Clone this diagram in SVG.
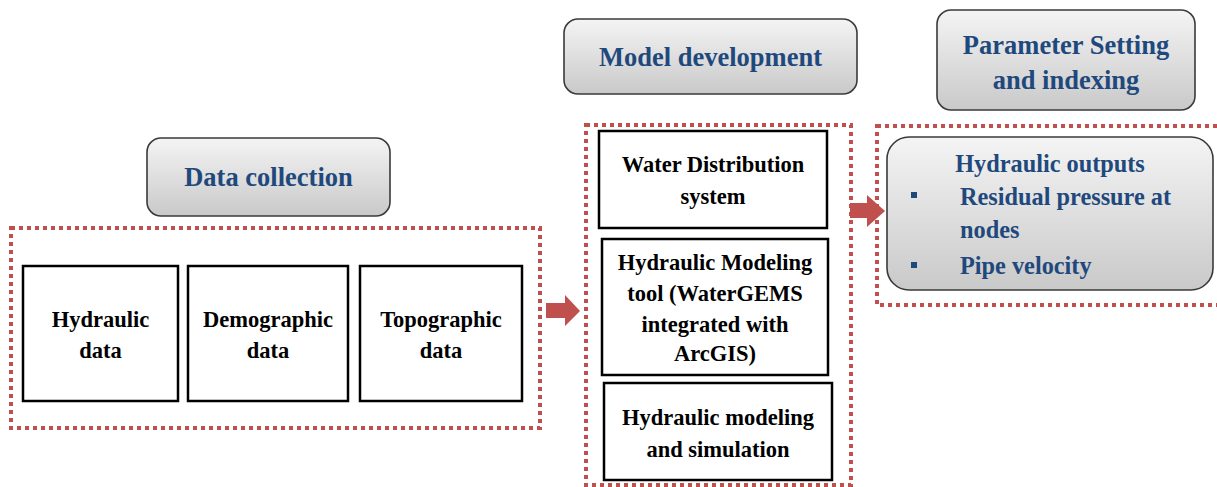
<svg xmlns="http://www.w3.org/2000/svg" width="1217" height="487" viewBox="0 0 1217 487">
<defs>
<linearGradient id="g" x1="0" y1="0" x2="0" y2="1">
<stop offset="0" stop-color="#f4f4f4"/>
<stop offset="1" stop-color="#c9c9c9"/>
</linearGradient>
</defs>
<style>
.title{fill:url(#g);stroke:#3a3a3a;stroke-width:1.6}
.tt{font-family:"Liberation Serif",serif;font-weight:bold;font-size:26.5px;fill:#1f497d;text-anchor:middle}
.box{fill:#ffffff;stroke:#000;stroke-width:2.5}
.bt{font-family:"Liberation Serif",serif;font-weight:bold;font-size:22.5px;fill:#000;text-anchor:middle}
.frame{fill:none;stroke:#c0504d;stroke-width:4;stroke-dasharray:4 4}
.ot{font-family:"Liberation Serif",serif;font-weight:bold;font-size:24.3px;fill:#1f497d}
.arrow{fill:#c0504d}
</style>
<rect width="1217" height="487" fill="#ffffff"/>
<g id="frames">
<rect class="frame" x="11" y="228" width="529" height="200"/>
<rect class="frame" x="586" y="125" width="265" height="360"/>
<rect class="frame" x="877" y="126" width="350" height="179"/>
</g>
<g id="data-collection">
<rect class="title" x="147" y="138" width="243" height="78" rx="14"/>
<text class="tt" x="268.5" y="186">Data collection</text>
</g>
<g id="model-development">
<rect class="title" x="564" y="19" width="293" height="75" rx="14"/>
<text class="tt" x="710.5" y="66">Model development</text>
</g>
<g id="parameter-setting">
<rect class="title" x="937" y="10" width="258" height="100" rx="14"/>
<text class="tt" x="1066" y="54">Parameter Setting</text>
<text class="tt" x="1066" y="89">and indexing</text>
</g>
<g id="hydraulic-data">
<rect class="box" x="23" y="266" width="155" height="135"/>
<text class="bt" x="100.5" y="327">Hydraulic</text>
<text class="bt" x="100.5" y="358">data</text>
</g>
<g id="demographic-data">
<rect class="box" x="188" y="266" width="160" height="135"/>
<text class="bt" x="268" y="327">Demographic</text>
<text class="bt" x="268" y="358">data</text>
</g>
<g id="topographic-data">
<rect class="box" x="360" y="266" width="162" height="135"/>
<text class="bt" x="441" y="327">Topographic</text>
<text class="bt" x="441" y="358">data</text>
</g>
<g id="water-distribution">
<rect class="box" x="599" y="131" width="228" height="97"/>
<text class="bt" x="713" y="172">Water Distribution</text>
<text class="bt" x="713" y="204">system</text>
</g>
<g id="modeling-tool">
<rect class="box" x="602" y="239" width="226" height="136"/>
<text class="bt" x="715" y="270">Hydraulic Modeling</text>
<text class="bt" x="715" y="301">tool (WaterGEMS</text>
<text class="bt" x="715" y="332">integrated with</text>
<text class="bt" x="715" y="361">ArcGIS)</text>
</g>
<g id="modeling-simulation">
<rect class="box" x="604" y="383" width="228" height="97"/>
<text class="bt" x="718" y="425">Hydraulic modeling</text>
<text class="bt" x="718" y="457">and simulation</text>
</g>
<g id="hydraulic-outputs">
<rect class="title" x="887" y="137" width="326" height="153" rx="22"/>
<text class="ot" x="1050" y="172" text-anchor="middle">Hydraulic outputs</text>
<rect x="911" y="192" width="6" height="6" fill="#1f497d"/>
<text class="ot" x="960" y="205">Residual pressure at</text>
<text class="ot" x="960" y="238">nodes</text>
<rect x="911" y="262" width="6" height="6" fill="#1f497d"/>
<text class="ot" x="960" y="274">Pipe velocity</text>
</g>
<g id="connectors">
<polygon class="arrow" points="546,303 565,303 565,295 580,311 565,326 565,318 546,318"/>
<polygon class="arrow" points="850,203 867,203 867,195 885,211 867,227 867,218 850,218"/>
</g>
</svg>
